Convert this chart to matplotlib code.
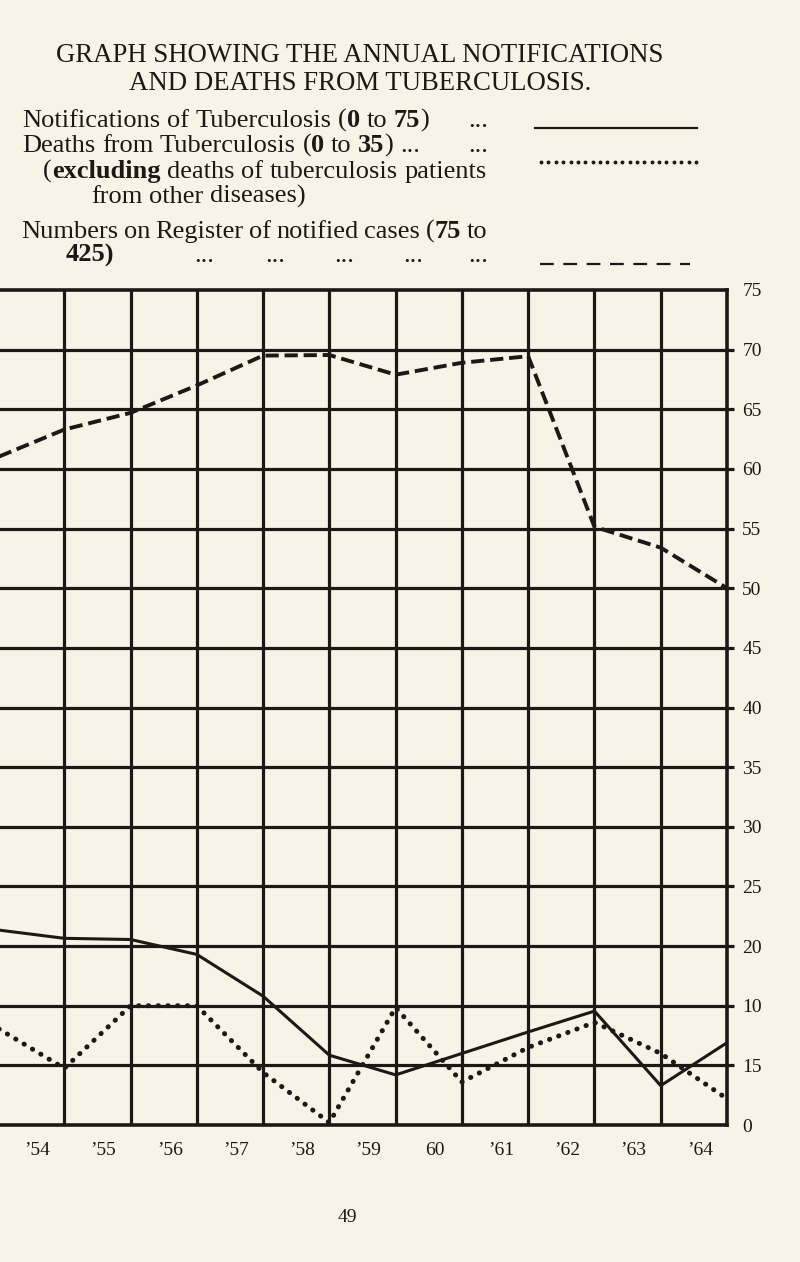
import numpy as np
import matplotlib
matplotlib.use('Agg')
import matplotlib.pyplot as plt
from matplotlib import transforms as mtrans
from matplotlib.lines import Line2D

plt.rcParams['font.family'] = ['Liberation Serif', 'DejaVu Serif']

# grid positions: 0 = left edge of the sheet, 1..11 = '54..'64
years = ["\u201954", "\u201955", "\u201956", "\u201957", "\u201958", "\u201959",
         "60", "\u201961", "\u201962", "\u201963", "\u201964"]
x = np.arange(12)

# right-hand scale, bottom line to top line (printed as in the original)
row_labels = ["0", "15", "10", "20", "25", "30", "35", "40",
              "45", "50", "55", "60", "65", "70", "75"]

# values, in grid rows (0 = bottom line, 14 = top line)
notifications = [3.27, 3.13, 3.11, 2.86, 2.16, 1.17, 0.84, 1.20, 1.56, 1.91, 0.66, 1.38]
deaths = [1.62, 0.95, 2.00, 2.00, 0.88, 0.04, 1.97, 0.72, 1.30, 1.72, 1.20, 0.44]
register = [11.20, 11.66, 11.94, 12.40, 12.90, 12.91, 12.58, 12.78, 12.89, 10.03, 9.68, 9.00]

W, H = 800, 1262
BG = '#f8f3e6'
INK = '#1c1815'

fig = plt.figure(figsize=(W / 100, H / 100), dpi=100)
fig.patch.set_facecolor(BG)
rend = fig.canvas.get_renderer()


def put(px, py, s, size, bold=False, ha='left'):
    return fig.text(px / W, 1 - py / H, s, fontsize=size, ha=ha, va='baseline',
                    fontweight='bold' if bold else 'normal', color=INK)


def text_w(s, size):
    t = put(0, 0, s, size)
    w = t.get_window_extent(rend).width
    t.remove()
    return w


def put_line(px, py, s, size, right=None):
    # words split on spaces, *...* marks bold pieces
    words = [[(seg, i % 2 == 1) for i, seg in enumerate(w.split('*')) if seg]
             for w in s.split(' ')]
    sp = text_w('a a', size) - text_w('aa', size)
    placed = [[put(0, py, seg, size, b) for seg, b in w] for w in words]
    widths = [sum(a.get_window_extent(rend).width for a in arts) for arts in placed]
    gap = sp
    if right is not None and len(words) > 1:
        gap = (right - px - sum(widths)) / (len(words) - 1)
    cur = px
    for arts, wd in zip(placed, widths):
        c = cur
        for a in arts:
            a.set_x(c / W)
            c += a.get_window_extent(rend).width
        cur += wd + gap


# heading
put(360, 62, "GRAPH SHOWING THE ANNUAL NOTIFICATIONS", 19.3, ha='center')
put(360, 90, "AND DEATHS FROM TUBERCULOSIS.", 19.3, ha='center')

put_line(22, 127, "Notifications of Tuberculosis (*0* to *75*)", 19)
put(468, 127, "...", 19)
fig.add_artist(Line2D([535 / W, 697 / W], [1 - 128 / H] * 2, color=INK, lw=1.6))

put_line(22, 152, "Deaths from Tuberculosis (*0* to *35*) ...", 19)
put(468, 152, "...", 19)
dx = np.linspace(541, 696, 22)
fig.add_artist(Line2D(dx / W, np.full(dx.size, 1 - 162 / H), ls='none',
                      marker='o', ms=1.8, color=INK))
put_line(43, 178, "(*excluding* deaths of tuberculosis patients", 19, right=487)
put_line(91, 203, "from other diseases)", 19)

put_line(21, 238, "Numbers on Register of notified cases (*75* to", 19, right=487)
put_line(66, 262, "*425)*", 19)
for lx in [194, 265, 334, 403, 468]:
    put(lx, 262, "...", 19)
fig.add_artist(Line2D([540 / W, 690 / W], [1 - 264 / H] * 2, color=INK, lw=1.6,
                      ls=(0, (6.2, 4.3))))

# the graph sheet (runs a little off the left edge of the page)
ax = fig.add_axes([-2 / W, 1 - 1125 / H, 729 / W, 835 / H])
ax.set_facecolor(BG)
ax.set_xlim(0, 11)
ax.set_ylim(0, 14)
for i in range(1, 11):
    ax.axvline(i, color=INK, lw=2.3, zorder=1)
for j in range(1, 14):
    ax.plot([0, 11.1], [j, j], color=INK, lw=2.3, zorder=1, clip_on=False,
            solid_capstyle='butt')
for s in ax.spines.values():
    s.set_linewidth(2.6)
    s.set_color(INK)

ax.plot(x, notifications, color=INK, lw=2.2, zorder=3)
ax.plot(x, deaths, color=INK, lw=3.6, ls=(0, (0.05, 1.9)),
        dash_capstyle='round', zorder=3)
ax.plot(x, register, color=INK, lw=2.8, ls=(0, (3.4, 1.5)), zorder=3)

ax.set_xticks(np.arange(1, 12))
ax.set_xticklabels(years)
ax.tick_params(axis='x', length=0, pad=12, labelsize=14, labelcolor=INK)
shift = mtrans.ScaledTranslation(-27 / 100, 0, fig.dpi_scale_trans)
for lab in ax.get_xticklabels():
    lab.set_transform(lab.get_transform() + shift)

ax.set_yticks(np.arange(15))
ax.set_yticklabels(row_labels)
ax.yaxis.tick_right()
ax.tick_params(axis='y', length=0, pad=11, labelsize=14, labelcolor=INK)

put(347, 1222, "49", 14, ha='center')

fig.savefig('out.png', dpi=100, facecolor=BG)
